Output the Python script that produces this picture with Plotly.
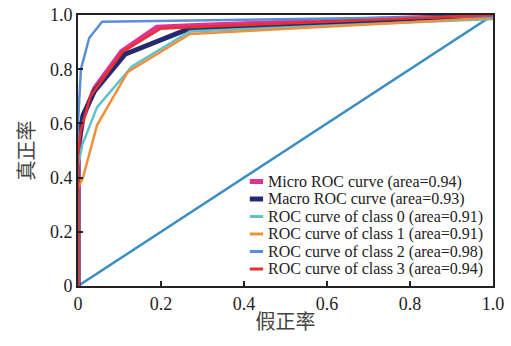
import plotly.graph_objects as go

# ROC data
micro_fpr = [0.0, 0.0, 0.005, 0.012, 0.04, 0.105, 0.19, 0.3, 1.0]
micro_tpr = [0.0, 0.47, 0.55, 0.62, 0.73, 0.865, 0.955, 0.962, 1.0]
macro_fpr = [0.0, 0.0, 0.005, 0.012, 0.04, 0.113, 0.26, 1.0]
macro_tpr = [0.0, 0.5, 0.56, 0.63, 0.72, 0.855, 0.945, 1.0]
c0_fpr = [0.0, 0.0, 0.01, 0.046, 0.13, 0.27, 1.0]
c0_tpr = [0.0, 0.44, 0.52, 0.66, 0.81, 0.94, 0.985]
c1_fpr = [0.0, 0.0, 0.012, 0.046, 0.12, 0.27, 1.0]
c1_tpr = [0.0, 0.36, 0.40, 0.594, 0.79, 0.93, 0.99]
c2_fpr = [0.0, 0.0, 0.007, 0.027, 0.058, 1.0]
c2_tpr = [0.0, 0.6, 0.8, 0.915, 0.975, 0.995]
c3_fpr = [0.0, 0.0, 0.006, 0.03, 0.108, 0.2, 1.0]
c3_tpr = [0.0, 0.48, 0.57, 0.70, 0.865, 0.95, 1.0]
diag = [0.0, 1.0]

names = ["Micro ROC curve (area=0.94)", "Macro ROC curve (area=0.93)",
         "ROC curve of class 0 (area=0.91)", "ROC curve of class 1 (area=0.91)",
         "ROC curve of class 2 (area=0.98)", "ROC curve of class 3 (area=0.94)"]
tick_vals = [0, 0.2, 0.4, 0.6, 0.8, 1.0]
tick_text = ["0", "0.2", "0.4", "0.6", "0.8", "1.0"]

series = [
    (micro_fpr, micro_tpr, "#e0348c", 5),
    (macro_fpr, macro_tpr, "#232a6e", 5),
    (c0_fpr, c0_tpr, "#5cc3c9", 2.5),
    (c1_fpr, c1_tpr, "#f0903a", 2.5),
    (c2_fpr, c2_tpr, "#5b8ed8", 2.5),
    (c3_fpr, c3_tpr, "#e8302e", 2.5),
]

serif = "Liberation Serif, Times New Roman, serif"
cjk = "Noto Sans CJK SC"

fig = go.Figure()
fig.add_trace(go.Scatter(x=diag, y=diag, mode="lines", showlegend=False,
                         line=dict(color="#3b8fc2", width=2.5)))
for (xs, ys, col, w), nm in zip(series, names):
    fig.add_trace(go.Scatter(x=xs, y=ys, mode="lines", name=nm, showlegend=False,
                             line=dict(color=col, width=w)))

# manual legend (compact, like the reference)
plot_h = 271.0
row0_px = 104.5   # distance of first row from the bottom of the plot (px)
row_gap = 17.5
sym_x0, sym_x1, text_x = 0.414, 0.446, 0.453
for i, ((xs, ys, col, w), nm) in enumerate(zip(series, names)):
    yp = (row0_px - i * row_gap) / plot_h
    fig.add_shape(type="line", xref="paper", yref="paper",
                  x0=sym_x0, x1=sym_x1, y0=yp, y1=yp,
                  line=dict(color=col, width=5 if w >= 5 else 3))
    fig.add_annotation(xref="paper", yref="paper", x=text_x, y=yp,
                       xanchor="left", yanchor="middle", showarrow=False,
                       text=nm, font=dict(family=serif, size=16, color="#222"))

axis_common = dict(range=[0, 1.0], tickvals=tick_vals, ticktext=tick_text,
                   ticks="inside", ticklen=5, tickwidth=1.5, tickcolor="#222",
                   showline=True, linecolor="#222", linewidth=2, mirror=True,
                   showgrid=False, zeroline=False, automargin=False,
                   tickfont=dict(family=serif, size=18, color="#222"))
fig.update_layout(
    width=511, height=346,
    margin=dict(l=78, r=18, t=15, b=60, autoexpand=False),
    plot_bgcolor="white", paper_bgcolor="white",
    showlegend=False,
    xaxis=dict(**axis_common,
               title=dict(text="假正率", standoff=2,
                          font=dict(family=cjk, size=20, color="#444"))),
    yaxis=dict(**axis_common,
               title=dict(text="真正率", standoff=10,
                          font=dict(family=cjk, size=20, color="#444"))),
)
fig.write_html("out.html")
